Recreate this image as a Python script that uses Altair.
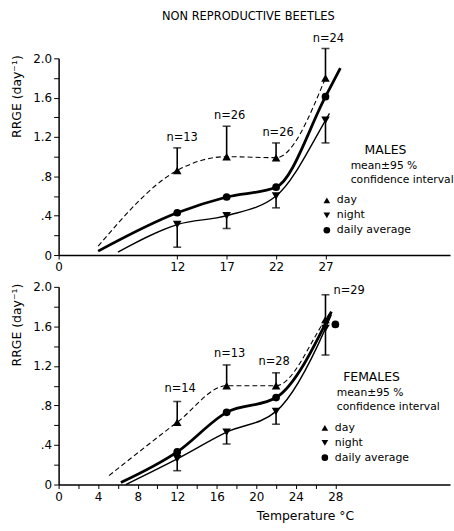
import altair as alt
import pandas as pd

FONT = "DejaVu Sans"

# ---------------- data ----------------
TEMPS = [12, 17, 22, 27]

# males
M_DAY = [0.86, 1.00, 0.99, 1.80]
M_DAY_UP = [1.09, 1.31, 1.14, 2.10]
M_NIGHT = [0.31, 0.40, 0.60, 1.37]
M_NIGHT_LO = [0.08, 0.27, 0.48, 1.14]
M_AVG_T = [12, 17, 22, 27]
M_AVG = [0.43, 0.59, 0.69, 1.61]
M_DAY_CURVE_T = [4.0, 12, 17, 22, 27]
M_DAY_CURVE = [0.09, 0.86, 1.00, 0.99, 1.80]
M_NIGHT_CURVE_T = [6.0, 12, 17, 22, 27, 27.4]
M_NIGHT_CURVE = [0.03, 0.31, 0.40, 0.60, 1.37, 1.44]
M_AVG_CURVE_T = [4.0, 12, 17, 22, 27, 28.5]
M_AVG_CURVE = [0.04, 0.43, 0.59, 0.69, 1.61, 1.90]
M_N_LABELS = ["n=13", "n=26", "n=26", "n=24"]
M_N_T = [12.5, 17.3, 22.2, 27.3]
M_N_Y = [1.19, 1.41, 1.24, 2.20]

# females
F_DAY = [0.63, 1.00, 1.00, 1.67]
F_DAY_UP = [0.84, 1.21, 1.13, 1.92]
F_NIGHT = [0.26, 0.53, 0.74, 1.58]
F_NIGHT_LO = [0.14, 0.41, 0.61, 1.31]
F_AVG_T = [12, 17, 22, 28]
F_AVG = [0.33, 0.73, 0.88, 1.62]
F_DAY_CURVE_T = [5.1, 12, 17, 22, 27, 27.6]
F_DAY_CURVE = [0.09, 0.63, 1.00, 1.00, 1.67, 1.76]
F_NIGHT_CURVE_T = [6.8, 12, 17, 22, 27, 27.6]
F_NIGHT_CURVE = [0.0, 0.26, 0.53, 0.74, 1.58, 1.72]
F_AVG_CURVE_T = [6.3, 12, 17, 22, 27.6]
F_AVG_CURVE = [0.02, 0.33, 0.73, 0.88, 1.75]
F_N_LABELS = ["n=14", "n=13", "n=28", "n=29"]
F_N_T = [12.3, 17.3, 21.8, 29.4]
F_N_Y = [0.97, 1.32, 1.24, 1.96]

Y_TICKS = [0, 0.2, 0.4, 0.6, 0.8, 1.0, 1.2, 1.4, 1.6, 1.8, 2.0]
Y_LABELS = ["0", "", ".4", "", ".8", "", "1.2", "", "1.6", "", "2.0"]
X_TICKS_TOP = [0, 12, 17, 22, 27]
X_TICKS_BOTTOM = [0, 2, 4, 6, 8, 10, 12, 14, 16, 18, 20, 22, 24, 26, 28]

TITLE = "NON REPRODUCTIVE BEETLES"
Y_TITLE = "RRGE (day⁻¹)"
X_TITLE = "Temperature °C"
LEG_ITEMS = ["day", "night", "daily average"]

W, H1, H2 = 394, 198, 199
XMAX = 39.6


def df(t, y):
    return pd.DataFrame({"x": t, "y": y})


def one():
    return pd.DataFrame({"a": [0]})


def panel(h, sex, day, day_up, night, night_lo, avg_t, avg,
          dct, dc, nct, nc, act, ac, n_t, n_y, n_lab, x_axis, leg, top):
    xs = alt.Scale(domain=[0, XMAX], nice=False, zero=False)
    ys = alt.Scale(domain=[0, 2.0], nice=False)
    y_axis = alt.Axis(
        values=Y_TICKS,
        labelExpr="%s[indexof(%s, datum.value)]" % (str(Y_LABELS), str(Y_TICKS)),
        labelOverlap=False, labelBound=False,
        title=Y_TITLE, titleAngle=270, titleX=-42, titleY=38,
        titleAlign="center", titleBaseline="middle",
        titleFontSize=12.5, titleFontWeight="normal", titleFont=FONT,
        labelFont=FONT, labelFontSize=12, labelColor="black",
        tickColor="black", tickSize=5, domainColor="black", domainWidth=1.5,
        labelPadding=2, grid=False,
    )
    X = alt.X("x:Q", scale=xs, axis=x_axis)
    Y = alt.Y("y:Q", scale=ys, axis=y_axis)
    Y2 = alt.Y("y2:Q", scale=ys, axis=y_axis)

    layers = []
    # curves
    layers.append(alt.Chart(df(dct, dc)).mark_line(
        interpolate="monotone", color="black", strokeWidth=1.1, strokeDash=[5, 3]
    ).encode(x=X, y=Y))
    layers.append(alt.Chart(df(nct, nc)).mark_line(
        interpolate="monotone", color="black", strokeWidth=1.4
    ).encode(x=X, y=Y))
    layers.append(alt.Chart(df(act, ac)).mark_line(
        interpolate="monotone", color="black", strokeWidth=2.8
    ).encode(x=X, y=Y))
    # error bars
    eb_day = pd.DataFrame({"x": TEMPS, "y": day, "y2": day_up})
    eb_night = pd.DataFrame({"x": TEMPS, "y": night, "y2": night_lo})
    for eb in (eb_day, eb_night):
        layers.append(alt.Chart(eb).mark_rule(color="black", strokeWidth=1.6).encode(
            x=X, y=Y, y2="y2:Q"))
        layers.append(alt.Chart(eb).mark_tick(
            orient="horizontal", color="black", size=8, thickness=1.6
        ).encode(x=X, y=Y2))
    # points
    layers.append(alt.Chart(df(TEMPS, day)).mark_point(
        shape="triangle-up", filled=True, color="black", size=75, opacity=1
    ).encode(x=X, y=Y))
    layers.append(alt.Chart(df(TEMPS, night)).mark_point(
        shape="triangle-down", filled=True, color="black", size=75, opacity=1
    ).encode(x=X, y=Y))
    layers.append(alt.Chart(df(avg_t, avg)).mark_point(
        shape="circle", filled=True, color="black", size=60, opacity=1
    ).encode(x=X, y=Y))
    # n labels
    nd = pd.DataFrame({"x": n_t, "y": n_y, "label": n_lab})
    layers.append(alt.Chart(nd).mark_text(
        font=FONT, fontSize=11.5, color="black", baseline="middle", align="center"
    ).encode(x=X, y=Y, text="label:N"))

    # legend block (pixel positions)
    lx, ly, txo, sxo = leg
    layers.append(alt.Chart(one()).mark_text(
        font=FONT, fontSize=12.5, color="black", align="center", baseline="middle"
    ).encode(x=alt.value(lx + sxo), y=alt.value(ly), text=alt.value(sex)))
    layers.append(alt.Chart(one()).mark_text(
        font=FONT, fontSize=10.8, color="black", align="left", baseline="middle"
    ).encode(x=alt.value(lx + txo), y=alt.value(ly + 16), text=alt.value("mean±95 %")))
    layers.append(alt.Chart(one()).mark_text(
        font=FONT, fontSize=10.8, color="black", align="left", baseline="middle"
    ).encode(x=alt.value(lx + txo), y=alt.value(ly + 30), text=alt.value("confidence interval")))
    shapes = ["triangle-up", "triangle-down", "circle"]
    for i, (lab, shp) in enumerate(zip(LEG_ITEMS, shapes)):
        yy = ly + 51 + i * 15
        layers.append(alt.Chart(one()).mark_point(
            shape=shp, filled=True, color="black", size=45, opacity=1
        ).encode(x=alt.value(lx), y=alt.value(yy)))
        layers.append(alt.Chart(one()).mark_text(
            font=FONT, fontSize=11, color="black", align="left", baseline="middle"
        ).encode(x=alt.value(lx + 10), y=alt.value(yy), text=alt.value(lab)))

    if top:
        layers.append(alt.Chart(one()).mark_text(
            font=FONT, fontSize=11.5, color="black", align="center", baseline="middle"
        ).encode(x=alt.value(191), y=alt.value(-42), text=alt.value(TITLE)))
        # invisible frame rule fixing the page origin
        layers.append(alt.Chart(one()).mark_rule(opacity=0, strokeWidth=0).encode(
            x=alt.value(-59), x2=alt.value(394), y=alt.value(-57)))

    return alt.layer(*layers).properties(width=W, height=h)


x_axis_top = alt.Axis(
    values=X_TICKS_TOP, title=None, labelFont=FONT, labelFontSize=12,
    labelColor="black", tickColor="black", tickSize=4, domainColor="black",
    domainWidth=1.5, labelPadding=3, grid=False, labelFlush=False,
    labelOverlap=False,
)
x_axis_bottom = alt.Axis(
    values=X_TICKS_BOTTOM, labelExpr="datum.value % 4 == 0 ? datum.label : ''",
    title=X_TITLE, titleX=248, titleY=31, titleAlign="center", titleBaseline="middle",
    titleFont=FONT, titleFontSize=12.5, titleFontWeight="normal",
    labelFont=FONT, labelFontSize=12, labelColor="black", tickColor="black",
    tickSize=4, domainColor="black", domainWidth=1.5, labelPadding=3, grid=False,
    labelFlush=False, labelOverlap=False,
)

top = panel(H1, "MALES", M_DAY, M_DAY_UP, M_NIGHT, M_NIGHT_LO, M_AVG_T, M_AVG,
            M_DAY_CURVE_T, M_DAY_CURVE, M_NIGHT_CURVE_T, M_NIGHT_CURVE,
            M_AVG_CURVE_T, M_AVG_CURVE, M_N_T, M_N_Y, M_N_LABELS,
            x_axis_top, (270, 92, 24, 59), True)
bottom = panel(H2, "FEMALES", F_DAY, F_DAY_UP, F_NIGHT, F_NIGHT_LO, F_AVG_T, F_AVG,
               F_DAY_CURVE_T, F_DAY_CURVE, F_NIGHT_CURVE_T, F_NIGHT_CURVE,
               F_AVG_CURVE_T, F_AVG_CURVE, F_N_T, F_N_Y, F_N_LABELS,
               x_axis_bottom, (268, 91, 12, 47), False)

chart = alt.vconcat(top, bottom, spacing=32, bounds="flush").properties(
    padding=0, background="white"
).configure_view(stroke=None)

chart.save("out.html", embed_options={"renderer": "svg", "actions": False})
